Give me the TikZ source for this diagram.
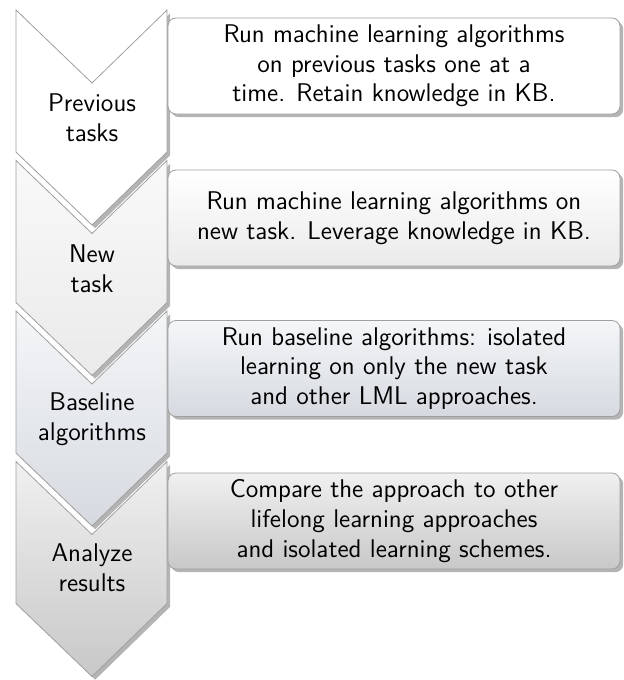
\documentclass[tikz,border=0pt]{standalone}
\usepackage{tikz}
\usetikzlibrary{shadows}

\definecolor{edgegray}{HTML}{A0A0A0}
\definecolor{shadegray}{HTML}{B4B4B4}
\definecolor{lighttop}{HTML}{F9F9F9}
\definecolor{lightbot}{HTML}{EAEAEA}
\definecolor{bluetop}{HTML}{F4F6F8}
\definecolor{bluebot}{HTML}{D6DAE0}
\definecolor{graytop}{HTML}{F0F0F0}
\definecolor{graybot}{HTML}{C8C8C8}

\begin{document}
\begin{tikzpicture}[x=0.5pt, y=-0.5pt, font=\fontsize{12.8}{14.8}\selectfont\sffamily,
    stage/.style={draw=edgegray, line width=0.4pt, drop shadow={shadow xshift=1.6pt, shadow yshift=-1.6pt, fill=shadegray, opacity=1}},
    label/.style={align=center, inner sep=0pt},
    info/.style={rectangle, rounded corners=4pt, draw=edgegray, line width=0.4pt, minimum width=226pt, minimum height=48pt, align=center, drop shadow={shadow xshift=1.6pt, shadow yshift=-1.6pt, fill=shadegray, opacity=1}}]
            \useasboundingbox (0,0) rectangle (624,680);
            % chevrons
            \path[stage, fill=white] (16,10) -- ++(76,73) -- ++(75,-73) -- ++(0,142) -- ++(-75,73) -- ++(-76,-73) -- cycle;
            \path[stage, top color=lighttop, bottom color=lightbot] (16,160.5) -- ++(76,73) -- ++(75,-73) -- ++(0,142) -- ++(-75,73) -- ++(-76,-73) -- cycle;
            \path[stage, top color=bluetop, bottom color=bluebot] (16,311) -- ++(76,73) -- ++(75,-73) -- ++(0,142) -- ++(-75,73) -- ++(-76,-73) -- cycle;
            \path[stage, top color=graytop, bottom color=graybot] (16,461.5) -- ++(76,73) -- ++(75,-73) -- ++(0,142) -- ++(-75,73) -- ++(-76,-73) -- cycle;
            \node[label] (prev) at (92,118) {Previous\\tasks};
            \node[label] (newt) at (92,268.5) {New\\task};
            \node[label] (base) at (92,419) {Baseline\\algorithms};
            \node[label] (anl) at (92,568) {Analyze\\results};
            % boxes
            \node[info, fill=white] (prevbox) at (394,66) {Run machine learning algorithms\\on previous tasks one at a\\time. Retain knowledge in KB.};
            \node[info, top color=white, bottom color=lightbot] (newbox) at (394,218) {Run machine learning algorithms on\\new task. Leverage knowledge in KB.};
            \node[info, top color=bluetop, bottom color=bluebot] (basebox) at (394,368.5) {Run baseline algorithms: isolated\\learning on only the new task\\and other LML approaches.};
            \node[info, top color=graytop, bottom color=graybot] (anlbox) at (394,521) {Compare the approach to other\\lifelong learning approaches\\and isolated learning schemes.};
\end{tikzpicture}
\end{document}
